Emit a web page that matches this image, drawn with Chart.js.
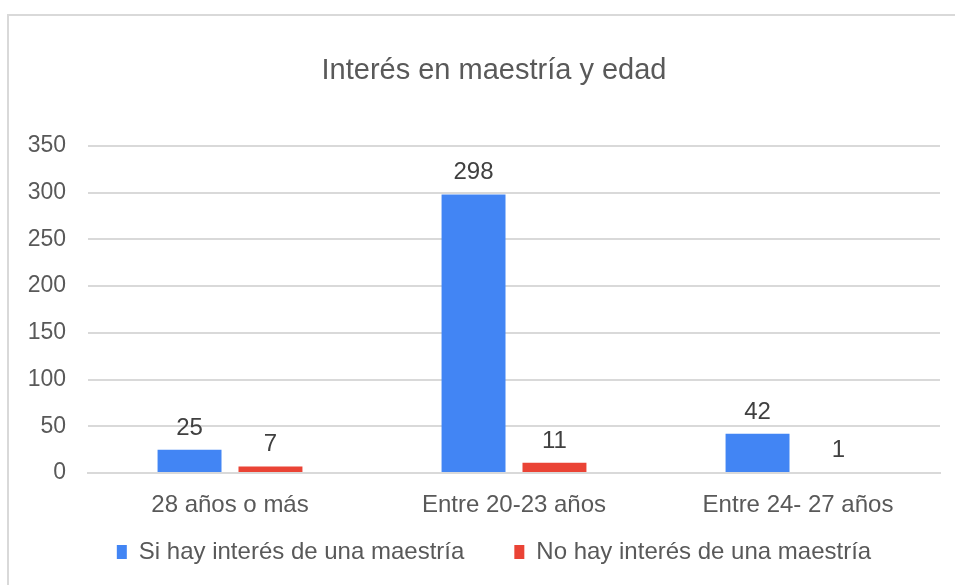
<!DOCTYPE html>
<html>
<head>
<meta charset="utf-8">
<script src="https://cdn.jsdelivr.net/npm/chart.js@4.4.1/dist/chart.umd.min.js"></script>
<style>
  html, body { margin: 0; padding: 0; background: #ffffff; }
  #wrap { position: relative; width: 955px; height: 585px; overflow: hidden; }
  #frame { position: absolute; left: 7px; top: 14px; width: 1000px; height: 700px;
           border-left: 2px solid #d9d9d9; border-top: 2px solid #d9d9d9; }
  #c { position: absolute; left: 0; top: 0; }
</style>
</head>
<body>
<div id="wrap">
  <div id="frame"></div>
  <canvas id="c" width="955" height="585"></canvas>
</div>
<script>
const chartTitle = "Interés en maestría y edad";
const categories = ["28 años o más", "Entre 20-23 años", "Entre 24- 27 años"];
const seriesNames = ["Si hay interés de una maestría", "No hay interés de una maestría"];
const siInteres = [25, 298, 42];
const noInteres = [7, 11, 1];
const yTicks = [0, 50, 100, 150, 200, 250, 300, 350];

const FONT = "'Liberation Sans', Arial, sans-serif";
const TEXT = "#595959";

const valueLabels = {
  id: 'valueLabels',
  afterDatasetsDraw(chart) {
    const ctx = chart.ctx;
    ctx.save();
    ctx.font = "24px " + FONT;
    ctx.fillStyle = "#404040";
    ctx.textAlign = "center";
    ctx.textBaseline = "alphabetic";
    chart.data.datasets.forEach((ds, i) => {
      const meta = chart.getDatasetMeta(i);
      meta.data.forEach((bar, j) => {
        ctx.fillText(String(ds.data[j]), bar.x, bar.y - 15);
      });
    });
    ctx.restore();
  }
};

// let tick labels draw outside their narrow layout boxes
const widenLabelClip = {
  id: 'widenLabelClip',
  afterLayout(chart) {
    chart.scales.y.left = 0;
    chart.scales.x.bottom = chart.height;
  }
};

new Chart(document.getElementById('c'), {
  type: 'bar',
  data: {
    labels: categories,
    datasets: [
      { label: seriesNames[0], data: siInteres, backgroundColor: '#4285F4', borderWidth: 0 },
      { label: seriesNames[1], data: noInteres, backgroundColor: '#EA4335', borderWidth: 0 }
    ]
  },
  options: {
    responsive: false,
    animation: false,
    devicePixelRatio: 1,
    layout: { padding: { left: 48, right: 15, top: 0, bottom: 11 } },
    datasets: { bar: { categoryPercentage: 0.57, barPercentage: 0.79 } },
    plugins: {
      title: {
        display: true,
        text: chartTitle,
        color: TEXT,
        font: { family: FONT, size: 29, weight: 'normal' },
        padding: { top: 54, bottom: 57 }
      },
      legend: {
        position: 'bottom',
        labels: {
          color: TEXT,
          font: { family: FONT, size: 24 },
          boxWidth: 10,
          boxHeight: 14,
          padding: 50
        }
      },
      tooltip: { enabled: false }
    },
    scales: {
      x: {
        grid: { display: false, drawTicks: false },
        border: { display: true, color: '#d9d9d9', width: 2 },
        ticks: { color: TEXT, font: { family: FONT, size: 24 }, padding: 18, maxRotation: 0 },
        afterFit(s) { s.height = 17; }
      },
      y: {
        min: 0, max: 350,
        afterBuildTicks(s) { s.ticks = yTicks.map(v => ({ value: v })); },
        grid: { color: '#d9d9d9', lineWidth: 2, drawTicks: false },
        border: { display: false },
        ticks: { color: TEXT, font: { family: FONT, size: 23 }, padding: 22 },
        afterFit(s) { s.width = 40; }
      }
    }
  },
  plugins: [valueLabels, widenLabelClip]
});
</script>
</body>
</html>
